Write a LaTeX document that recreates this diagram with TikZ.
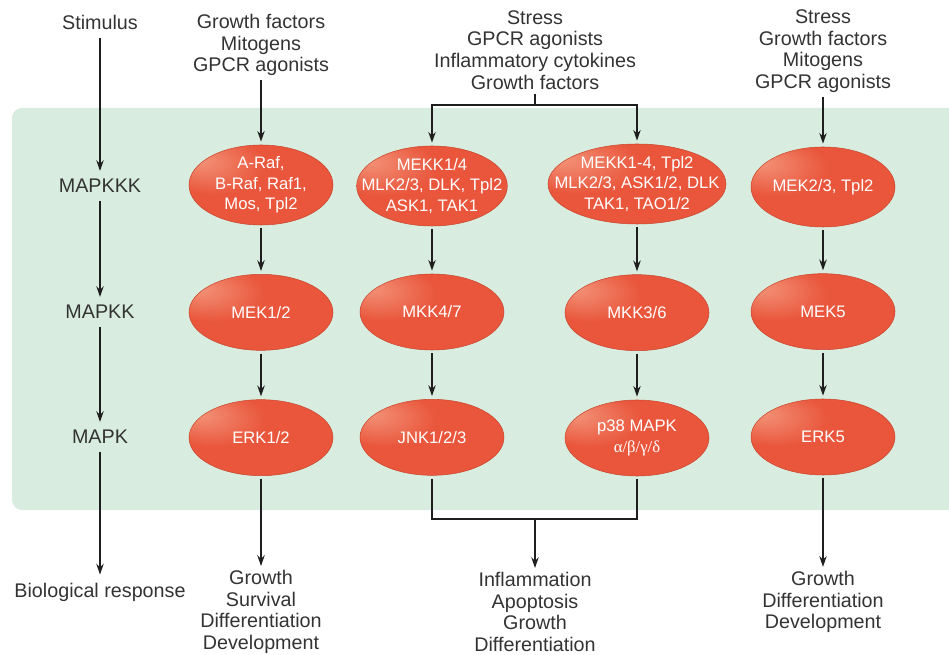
\documentclass[tikz,border=0pt]{standalone}
\usepackage{fontspec}
\setmainfont{Liberation Sans}
\newfontfamily\greekfont{Liberation Serif}
\usetikzlibrary{positioning,arrows.meta,shapes.geometric}

\definecolor{panelgreen}{HTML}{D8EDDF}
\definecolor{kinred}{HTML}{E9563C}
\definecolor{kinhi}{HTML}{F39378}
\definecolor{kinedge}{HTML}{C9472F}
\definecolor{inkgray}{HTML}{333333}
\definecolor{linegray}{HTML}{1E1E1E}

\pgfdeclareradialshading{kinshade}{\pgfpoint{-22bp}{16bp}}{%
  color(0bp)=(kinhi); color(18bp)=(kinred); color(70bp)=(kinred)}

\begin{document}
\begin{tikzpicture}[
    x=0.75pt,
    y=-0.75pt,
    >={Stealth[length=8pt,width=5.5pt]},
    line/.style={
        draw=linegray,
        line width=1.4pt
    },
    arrow/.style={line,->},
    side/.style={
        font=\fontsize{14.8}{16.5}\selectfont,
        text=inkgray,
        inner sep=6pt
    },
    cue/.style={
        font=\fontsize{14.8}{16.25}\selectfont,
        text=inkgray,
        align=center,
        inner sep=3pt
    },
    kintext/.style={
        font=\fontsize{12.5}{15.5}\selectfont,
        text=white,
        align=center
    },
    kinase/.style={
        ellipse,
        shade,
        shading=kinshade,
        draw=kinedge,
        line width=0.4pt,
        minimum width=108pt,
        minimum height=57pt,
        inner sep=0pt,
        outer sep=2.5pt,
        label={[kintext]center:{#1}}
    },
    toprow/.style={minimum height=60pt}
]

\useasboundingbox (0,0) rectangle (949,655);

%------------------------------------------------
% Panel
%------------------------------------------------

\begin{scope}
\clip (0,0) rectangle (949,655);
\fill[panelgreen,rounded corners=7.5pt] (12,108) rectangle (975,510);
\end{scope}

%------------------------------------------------
% Levels
%------------------------------------------------

\node[side] (stim) at (100,22) {Stimulus};
\node[side] (lkkk) at (100,186) {MAPKKK};
\node[side] (lkk) at (100,312) {MAPKK};
\node[side] (lk) at (100,437) {MAPK};
\node[side] (resp) at (100,592) {Biological response};

\foreach \a/\b in {stim/lkkk,lkkk/lkk,lkk/lk,lk/resp}
\draw[arrow] (\a)--(\b);

%------------------------------------------------
% Stimuli
%------------------------------------------------

\node[cue] (mitogen) at (261,45)
{Growth factors\\Mitogens\\GPCR agonists};

\node[cue] (stress) at (535,50)
{Stress\\GPCR agonists\\Inflammatory cytokines\\Growth factors};

\node[cue] (stressb) at (823,51)
{Stress\\Growth factors\\Mitogens\\GPCR agonists};

%------------------------------------------------
% MAPKKK
%------------------------------------------------

\node[kinase={A-Raf,\\B-Raf, Raf1,\\Mos, Tpl2},toprow] (raf) at (261,185) {};
\node[kinase={MEKK1/4\\MLK2/3, DLK, Tpl2\\ASK1, TAK1},toprow,
    minimum width=113pt] (mekk14) at (432,186) {};
\node[kinase={MEKK1-4, Tpl2\\MLK2/3, ASK1/2, DLK\\TAK1, TAO1/2},toprow,
    minimum width=133.5pt] (mekk) at (637,184) {};
\node[kinase={MEK2/3, Tpl2},toprow] (mek23) at (823,187) {};

%------------------------------------------------
% MAPKK
%------------------------------------------------

\node[kinase={MEK1/2},below=32pt of raf] (mek12) {};
\node[kinase={MKK4/7},below=31pt of mekk14] (mkk47) {};
\node[kinase={MKK3/6},below=33pt of mekk] (mkk36) {};
\node[kinase={MEK5},below=30pt of mek23] (mek5) {};

%------------------------------------------------
% MAPK
%------------------------------------------------

\node[kinase={ERK1/2},below=32pt of mek12] (erk12) {};
\node[kinase={JNK1/2/3},below=32pt of mkk47] (jnk) {};
\node[kinase={p38 MAPK\\{\greekfont α/β/γ/δ}},below=32pt of mkk36] (p38) {};
\node[kinase={ERK5},below=32pt of mek5] (erk5) {};

\foreach \a/\b in {
raf/mek12,
mek12/erk12,
mekk14/mkk47,
mkk47/jnk,
mekk/mkk36,
mkk36/p38,
mek23/mek5,
mek5/erk5}
\draw[arrow] (\a)--(\b);

%------------------------------------------------
% Stimulus connectors
%------------------------------------------------

\coordinate (split) at (535,105);

\draw[arrow] (mitogen)--(raf);
\draw[line] (stress)--(split);
\draw[arrow] (split)-|(mekk14);
\draw[arrow] (split)-|(mekk);
\draw[arrow] (stressb)--(mek23);

%------------------------------------------------
% Responses
%------------------------------------------------

\node[cue] (growth) at (261,612)
{Growth\\Survival\\Differentiation\\Development};

\node[cue] (inflam) at (535,612)
{Inflammation\\Apoptosis\\Growth\\Differentiation};

\node[cue] (growthb) at (823,602)
{Growth\\Differentiation\\Development};

\coordinate (merge) at (535,519);

\draw[arrow] (erk12)--(growth);
\draw[line] (jnk)|-(merge);
\draw[line] (p38)|-(merge);
\draw[arrow] (merge)--(inflam);
\draw[arrow] (erk5)--(growthb);

\end{tikzpicture}
\end{document}
